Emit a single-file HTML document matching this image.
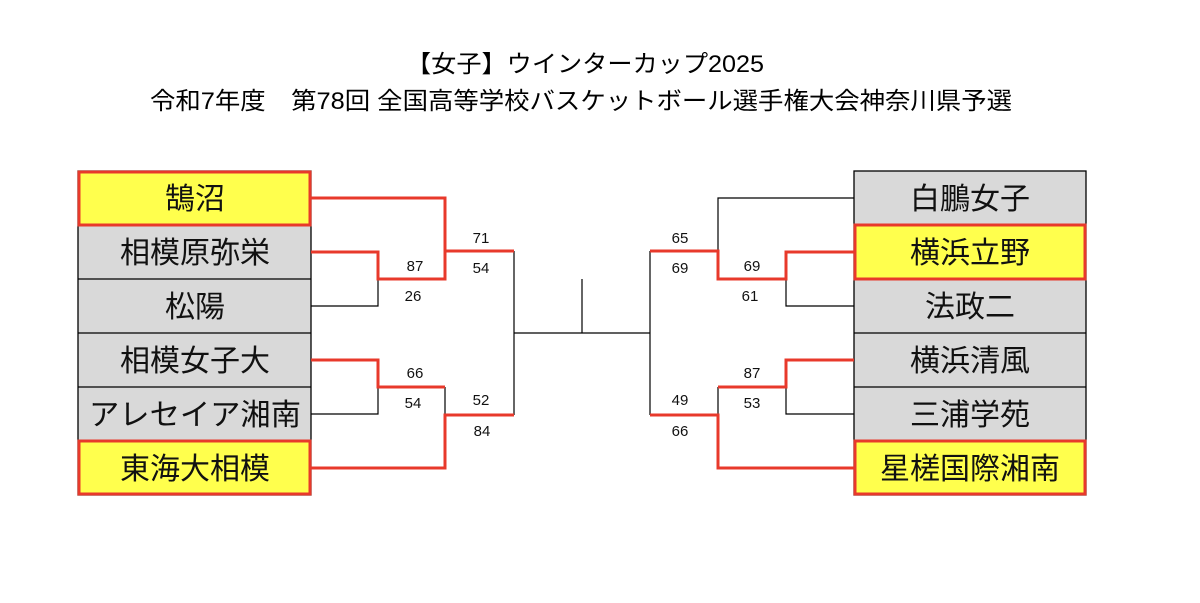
<!DOCTYPE html>
<html><head><meta charset="utf-8"><style>
html,body{margin:0;padding:0;background:#fff;}
svg{display:block;}
text{font-family:"Liberation Sans","Noto Sans CJK JP",sans-serif;}
</style></head><body>
<svg width="1200" height="603" viewBox="0 0 1200 603">
<text x="585" y="72" font-size="24" text-anchor="middle" textLength="358" lengthAdjust="spacingAndGlyphs">【女子】ウインターカップ2025</text>
<text x="581" y="109" font-size="24" text-anchor="middle" textLength="862" lengthAdjust="spacingAndGlyphs">令和7年度　第78回 全国高等学校バスケットボール選手権大会神奈川県予選</text>

<g stroke="#000" stroke-width="1.3">
<rect x="78" y="171" width="233" height="324" fill="#d9d9d9"/>
<line x1="78" y1="279" x2="311" y2="279"/><line x1="78" y1="333" x2="311" y2="333"/><line x1="78" y1="387" x2="311" y2="387"/>
<rect x="854" y="171" width="232" height="324" fill="#d9d9d9"/>
<line x1="854" y1="333" x2="1086" y2="333"/><line x1="854" y1="387" x2="1086" y2="387"/>
</g>
<g stroke="#e8392b" stroke-width="3" fill="#ffff4d">
<rect x="79" y="172" width="231" height="53"/>
<rect x="79" y="441" width="231" height="53"/>
<rect x="855" y="225" width="230" height="54"/>
<rect x="855" y="441" width="230" height="53"/>
</g>
<g font-size="30" text-anchor="middle" fill="#111">
<text x="195" y="209">鵠沼</text>
<text x="195" y="263">相模原弥栄</text>
<text x="195" y="317">松陽</text>
<text x="195" y="371">相模女子大</text>
<text x="195" y="425" textLength="212" lengthAdjust="spacingAndGlyphs">アレセイア湘南</text>
<text x="195" y="479">東海大相模</text>
<text x="970" y="209">白鵬女子</text>
<text x="970" y="263">横浜立野</text>
<text x="970" y="317">法政二</text>
<text x="970" y="371">横浜清風</text>
<text x="970" y="425">三浦学苑</text>
<text x="970" y="479">星槎国際湘南</text>
</g>

<g stroke="#000" stroke-width="1.2" fill="none">
<polyline points="311,306 378,306 378,279"/>
<polyline points="311,414 378,414 378,387"/>
<line x1="445" y1="387" x2="445" y2="415"/>
<line x1="445" y1="251" x2="445" y2="279"/>
<polyline points="514,251 514,415"/>
<line x1="514" y1="333" x2="650" y2="333"/>
<line x1="582" y1="279" x2="582" y2="333"/>
<polyline points="650,251 650,415"/>
<polyline points="854,198 718,198 718,251"/>
<polyline points="854,306 786,306 786,279"/>
<polyline points="854,414 786,414 786,387"/>
<line x1="718" y1="387" x2="718" y2="415"/>
</g>
<g stroke="#e8392b" stroke-width="3" fill="none">
<polyline points="311,198 445,198 445,251 514,251"/>
<polyline points="311,252 378,252 378,279 445,279 445,251"/>
<polyline points="311,360 378,360 378,387 445,387"/>
<polyline points="311,468 445,468 445,415 514,415"/>
<polyline points="650,251 718,251 718,279 786,279 786,252 854,252"/>
<polyline points="718,387 786,387 786,360 854,360"/>
<polyline points="650,415 718,415 718,468 854,468"/>
</g>
<g font-size="15" text-anchor="middle" fill="#111">
<text x="481" y="243">71</text><text x="481" y="273">54</text>
<text x="415" y="271">87</text><text x="413" y="301">26</text>
<text x="415" y="378">66</text><text x="413" y="408">54</text>
<text x="481" y="405">52</text><text x="482" y="436">84</text>
<text x="680" y="243">65</text><text x="680" y="273">69</text>
<text x="752" y="271">69</text><text x="750" y="301">61</text>
<text x="752" y="378">87</text><text x="752" y="408">53</text>
<text x="680" y="405">49</text><text x="680" y="436">66</text>
</g>
</svg>
</body></html>
